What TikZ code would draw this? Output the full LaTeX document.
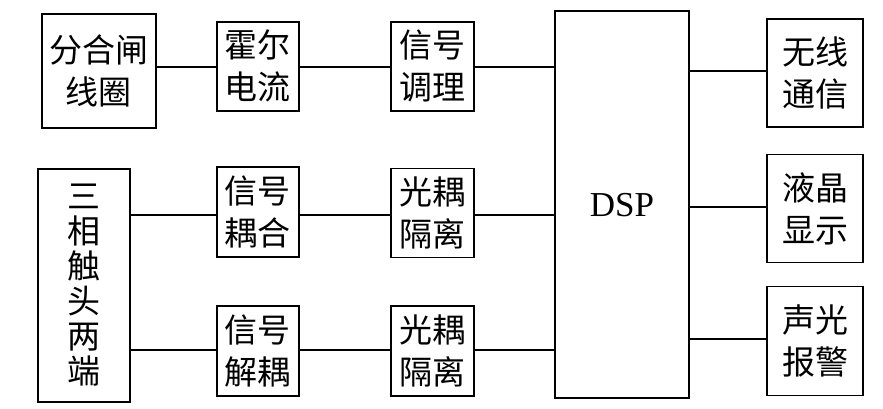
\documentclass[tikz,border=0pt]{standalone}
\usepackage{fontspec}
\setmainfont{Liberation Serif}
\newfontfamily\cjk{Noto Sans CJK SC}
\begin{document}
\begin{tikzpicture}[x=1pt,y=-1pt,
  blk/.style={draw,line width=1.9pt,inner sep=0pt,align=center,
    font=\cjk\fontsize{33}{42}\selectfont},
  conn/.style={line width=2pt}]
\useasboundingbox (0,0) rectangle (883,409);
\node[blk,minimum width=114,minimum height=114] (coil) at (98.8,71.3) {分合闸\\线圈};
\node[blk,minimum width=82,minimum height=89] (hall) at (257.8,66.3) {霍尔\\电流};
\node[blk,minimum width=83,minimum height=89] (cond) at (432.3,66.3) {信号\\调理};
\node[blk,minimum width=134,minimum height=387,font=\fontsize{35}{40}\selectfont] (dsp) at (622,204.7) {DSP};
\node[blk,minimum width=96,minimum height=108] (wl) at (815.3,73) {无线\\通信};
\node[blk,minimum width=96,minimum height=108] (lcd) at (815.3,208.5) {液晶\\显示};
\node[blk,minimum width=96,minimum height=109] (alarm) at (815.3,341) {声光\\报警};
\node[blk,minimum width=92,minimum height=233,font=\cjk\fontsize{33}{35}\selectfont] (three) at (84,285.5) {三\\相\\触\\头\\两\\端};
\node[blk,minimum width=82,minimum height=90] (coup) at (257.8,212) {信号\\耦合};
\node[blk,minimum width=83,minimum height=89] (opto1) at (432.3,213) {光耦\\隔离};
\node[blk,minimum width=82,minimum height=90] (dec) at (257.8,351) {信号\\解耦};
\node[blk,minimum width=83,minimum height=90] (opto2) at (432.3,351) {光耦\\隔离};
\draw[conn] ([yshift=-0.7]hall.west) -- ([yshift=-0.7]hall.west -| coil.east);
\draw[conn] ([yshift=-0.7]hall.east) -- ([yshift=-0.7]hall.east -| cond.west);
\draw[conn] ([yshift=-0.7]cond.east) -- ([yshift=-0.7]cond.east -| dsp.west);
\draw[conn] ([yshift=-3]coup.west) -- ([yshift=-3]coup.west -| three.east);
\draw[conn] ([yshift=-3]coup.east) -- ([yshift=-3]coup.east -| opto1.west);
\draw[conn] ([yshift=-2]opto1.east) -- ([yshift=-2]opto1.east -| dsp.west);
\draw[conn] ([yshift=1]dec.west) -- ([yshift=1]dec.west -| three.east);
\draw[conn] ([yshift=1]dec.east) -- ([yshift=1]dec.east -| opto2.west);
\draw[conn] ([yshift=1]opto2.east) -- ([yshift=1]opto2.east -| dsp.west);
\draw[conn] ([yshift=2]wl.west) -- ([yshift=2]wl.west -| dsp.east);
\draw[conn] ([yshift=1.5]lcd.west) -- ([yshift=1.5]lcd.west -| dsp.east);
\draw[conn] ([yshift=2]alarm.west) -- ([yshift=2]alarm.west -| dsp.east);
\end{tikzpicture}
\end{document}
